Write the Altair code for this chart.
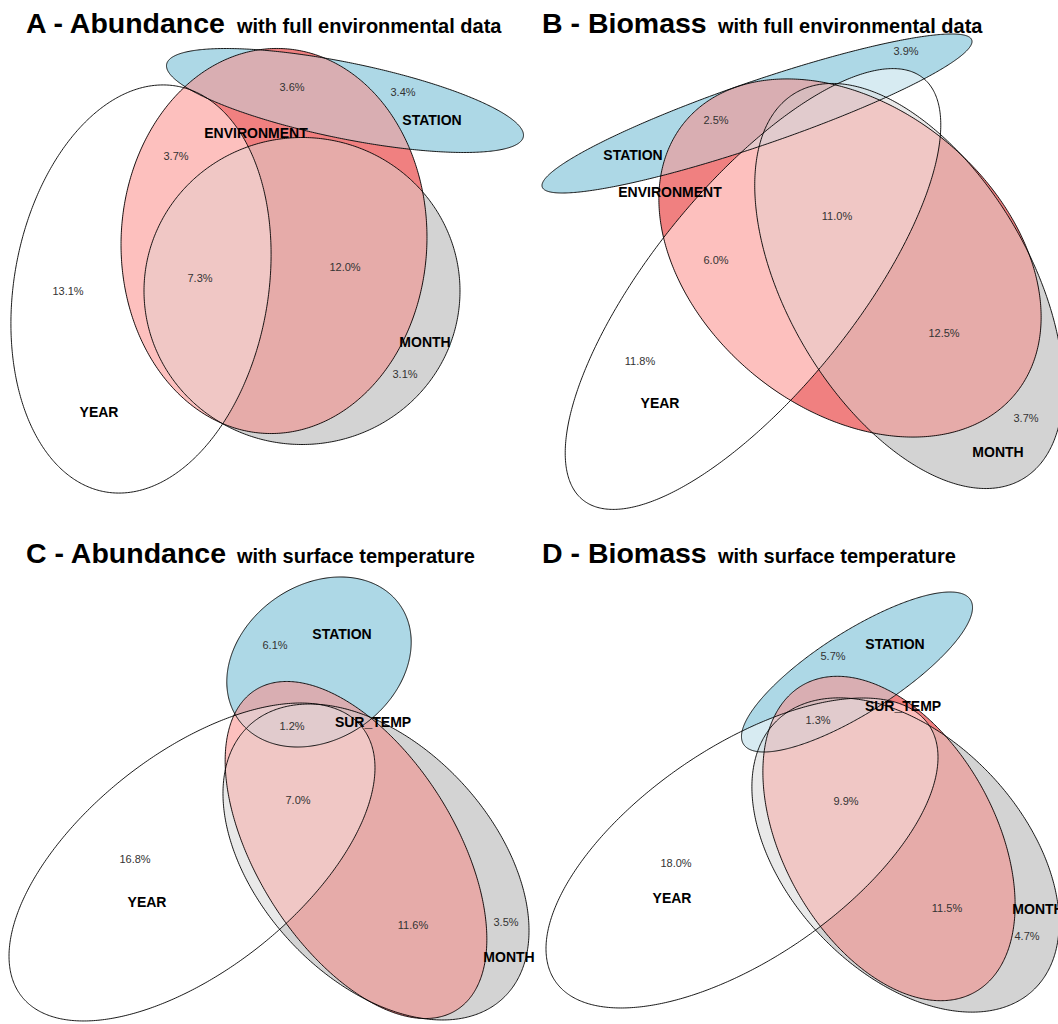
import numpy as np
import pandas as pd
import altair as alt
from itertools import combinations

W, H = 1058, 1024

PANELS = ["A", "B", "C", "D"]
HEADS = ["A - Abundance", "B - Biomass", "C - Abundance", "D - Biomass"]
SUBHEADS = ["with full environmental data", "with full environmental data",
            "with surface temperature", "with surface temperature"]

SETS = ["YEAR", "MONTH", "ENV", "STATION"]
SET_COLOURS = {"YEAR": "#FFFFFF", "MONTH": "#D3D3D3", "ENV": "#F08080", "STATION": "#ADD8E6"}

# fitted ellipses per panel: centre x, centre y, semi-axis a, semi-axis b, rotation (deg, anticlockwise)
YEAR_ELL = [(141, 289, 206, 127, 80.0), (753, 289, 271, 102, 51.1),
            (192, 862, 217, 108, 38.3), (742, 853, 226.5, 105.5, 34.5)]
MONTH_ELL = [(302, 291, 158, 153.5, 0.0), (909, 286, 224, 121, -59.5),
             (376, 862, 186.3, 116.9, -47.1), (905.5, 855, 186, 117, -46.5)]
ENV_ELL = [(274, 241, 192.6, 152.9, 87.6), (850, 258, 214, 151, -39.4),
           (356, 850, 189, 99, -57.9), (889, 838.5, 176, 106, -60.9)]
STATION_ELL = [(345, 100.5, 182, 38, -11.5), (757, 113.5, 227, 32, 18.9),
               (319, 662, 99, 77, 35.4), (857, 672, 134.5, 40.7, 32.5)]

# region percentages: panel, label, anchor x, anchor y
PCT_LABELS = [
    ("A", "3.6%", 292, 88), ("A", "3.4%", 403, 93), ("A", "3.7%", 176, 157),
    ("A", "7.3%", 200, 279), ("A", "12.0%", 345, 268), ("A", "13.1%", 68, 292),
    ("A", "3.1%", 405, 375),
    ("B", "3.9%", 906, 52), ("B", "2.5%", 716, 121), ("B", "11.0%", 837, 217),
    ("B", "6.0%", 716, 261), ("B", "12.5%", 944, 334), ("B", "11.8%", 640, 362),
    ("B", "3.7%", 1026, 419),
    ("C", "6.1%", 275, 646), ("C", "1.2%", 292, 727), ("C", "7.0%", 298, 801),
    ("C", "16.8%", 135, 860), ("C", "11.6%", 413, 926), ("C", "3.5%", 506, 923),
    ("D", "5.7%", 833, 657), ("D", "1.3%", 818, 721), ("D", "9.9%", 846, 802),
    ("D", "18.0%", 676, 864), ("D", "11.5%", 947, 909), ("D", "4.7%", 1027, 937),
]

# set names: panel, label, anchor x, anchor y
SET_LABELS = [
    ("A", "STATION", 432, 121), ("A", "ENVIRONMENT", 256, 134), ("A", "MONTH", 425, 343),
    ("A", "YEAR", 99, 413),
    ("B", "STATION", 633, 156), ("B", "ENVIRONMENT", 670, 193), ("B", "YEAR", 660, 404),
    ("B", "MONTH", 998, 453),
    ("C", "STATION", 342, 635), ("C", "SUR_TEMP", 373, 723), ("C", "YEAR", 147, 903),
    ("C", "MONTH", 509, 958),
    ("D", "STATION", 895, 645), ("D", "SUR_TEMP", 903, 707), ("D", "YEAR", 672, 899),
    ("D", "MONTH", 1038, 910),
]

# panel headings: main x, sub x, baseline y
HEAD_POS = [(26, 237, 33), (542, 718, 33), (26, 237, 563), (542, 718, 563)]


# ---- colour mixing in CIELab ----
M_RGB2XYZ = np.array([[0.4124564, 0.3575761, 0.1804375],
                      [0.2126729, 0.7151522, 0.0721750],
                      [0.0193339, 0.1191920, 0.9503041]])
WHITE = np.array([0.95047, 1.0, 1.08883])


def hex_to_lab(h):
    c = np.array([int(h[i:i + 2], 16) for i in (1, 3, 5)], float) / 255.0
    lin = np.where(c <= 0.04045, c / 12.92, ((c + 0.055) / 1.055) ** 2.4)
    xyz = M_RGB2XYZ @ lin / WHITE
    d = 6 / 29
    f = np.where(xyz > d ** 3, np.cbrt(xyz), xyz / (3 * d * d) + 4 / 29)
    return np.array([116 * f[1] - 16, 500 * (f[0] - f[1]), 200 * (f[1] - f[2])])


def lab_to_hex(lab):
    L, a, b = lab
    fy = (L + 16) / 116
    f = np.array([fy + a / 500, fy, fy - b / 200])
    d = 6 / 29
    xyz = np.where(f > d, f ** 3, 3 * d * d * (f - 4 / 29)) * WHITE
    lin = np.clip(np.linalg.inv(M_RGB2XYZ) @ xyz, 0, 1)
    c = np.where(lin <= 0.0031308, 12.92 * lin, 1.055 * lin ** (1 / 2.4) - 0.055)
    rgb = np.clip(np.round(c * 255), 0, 255).astype(int)
    return "#%02x%02x%02x" % tuple(rgb)


def mix(names):
    return lab_to_hex(np.mean([hex_to_lab(SET_COLOURS[n]) for n in names], axis=0))


# ---- ellipse geometry ----
def axes_dirs(ang):
    t = np.radians(ang)
    return np.array([np.cos(t), -np.sin(t)]), np.array([np.sin(t), np.cos(t)])


def outline(e, n=540):
    cx, cy, a, b, ang = e
    u, v = axes_dirs(ang)
    s = np.linspace(0, 2 * np.pi, n + 1)
    return (cx + a * np.cos(s) * u[0] + b * np.sin(s) * v[0],
            cy + a * np.cos(s) * u[1] + b * np.sin(s) * v[1])


def depth(e, gx, gy):
    cx, cy, a, b, ang = e
    u, v = axes_dirs(ang)
    qu = (gx - cx) * u[0] + (gy - cy) * u[1]
    qv = (gx - cx) * v[0] + (gy - cy) * v[1]
    return (1 - np.sqrt((qu / a) ** 2 + (qv / b) ** 2)) * b


def ray_exit(e, p, dx, dy):
    cx, cy, a, b, ang = e
    u, v = axes_dirs(ang)
    qu = (p[0] - cx) * u[0] + (p[1] - cy) * u[1]
    qv = (p[0] - cx) * v[0] + (p[1] - cy) * v[1]
    eu = dx * u[0] + dy * u[1]
    ev = dx * v[0] + dy * v[1]
    A = eu ** 2 / a ** 2 + ev ** 2 / b ** 2
    B = 2 * (qu * eu / a ** 2 + qv * ev / b ** 2)
    C = qu ** 2 / a ** 2 + qv ** 2 / b ** 2 - 1
    return (-B + np.sqrt(np.maximum(B * B - 4 * A * C, 0))) / (2 * A)


fill_rows = []
line_rows = []
theta = np.linspace(0, 2 * np.pi, 541)
dxs, dys = np.cos(theta), np.sin(theta)

for pi, panel in enumerate(PANELS):
    ells = [YEAR_ELL[pi], MONTH_ELL[pi], ENV_ELL[pi], STATION_ELL[pi]]
    x0 = min(e[0] - e[2] for e in ells); x1 = max(e[0] + e[2] for e in ells)
    y0 = min(e[1] - e[2] for e in ells); y1 = max(e[1] + e[2] for e in ells)
    gx, gy = np.meshgrid(np.arange(x0, x1, 1.0), np.arange(y0, y1, 1.0))
    depths = [depth(e, gx, gy) for e in ells]

    for k in range(1, 5):
        for combo in combinations(range(4), k):
            names = [SETS[i] for i in combo]
            pid = f"{panel}-{'+'.join(names)}"
            colour = mix(names)
            if k == 1:
                px, py = outline(ells[combo[0]])
            else:
                dmin = np.min([depths[i] for i in combo], axis=0)
                j = np.argmax(dmin)
                if dmin.flat[j] <= 0.3:
                    continue
                p = (gx.flat[j], gy.flat[j])
                r = np.min([ray_exit(ells[i], p, dxs, dys) for i in combo], axis=0)
                px, py = p[0] + r * dxs, p[1] + r * dys
            for idx, (xx, yy) in enumerate(zip(px, py)):
                fill_rows.append((pid, k, idx, float(xx), float(yy), colour))

    for i, e in enumerate(ells):
        px, py = outline(e)
        for idx, (xx, yy) in enumerate(zip(px, py)):
            line_rows.append((f"{panel}-{SETS[i]}", idx, float(xx), float(yy)))

fills = pd.DataFrame(fill_rows, columns=["poly", "level", "idx", "x", "y", "fill"])
lines = pd.DataFrame(line_rows, columns=["ell", "idx", "x", "y"])
pct = pd.DataFrame(PCT_LABELS, columns=["panel", "text", "x", "y"])
setlab = pd.DataFrame(SET_LABELS, columns=["panel", "text", "x", "y"])
heads = pd.DataFrame({"text": HEADS, "x": [h[0] for h in HEAD_POS], "y": [h[2] for h in HEAD_POS]})
subs = pd.DataFrame({"text": SUBHEADS, "x": [h[1] for h in HEAD_POS], "y": [h[2] for h in HEAD_POS]})

xs = alt.Scale(domain=[0, W], nice=False, zero=False)
ys = alt.Scale(domain=[0, H], nice=False, zero=False, reverse=True)
X = alt.X("x:Q", scale=xs, axis=None)
Y = alt.Y("y:Q", scale=ys, axis=None)

layers = []
for k in range(1, 5):
    layers.append(
        alt.Chart(fills[fills.level == k]).mark_line(filled=True, strokeWidth=0).encode(
            x=X, y=Y, detail="poly:N", order="idx:Q",
            color=alt.Color("fill:N", scale=None),
        )
    )

layers.append(
    alt.Chart(lines).mark_line(color="black", strokeWidth=0.9).encode(
        x=X, y=Y, detail="ell:N", order="idx:Q"
    )
)

FONT = "Liberation Sans"
layers.append(
    alt.Chart(pct).mark_text(font=FONT, fontSize=11, color="#333333",
                             align="center", baseline="middle").encode(x=X, y=Y, text="text:N")
)
layers.append(
    alt.Chart(setlab).mark_text(font=FONT, fontSize=14, fontWeight="bold", color="black",
                                align="center", baseline="middle").encode(x=X, y=Y, text="text:N")
)
layers.append(
    alt.Chart(heads).mark_text(font=FONT, fontSize=28.5, fontWeight="bold", color="black",
                               align="left", baseline="alphabetic").encode(x=X, y=Y, text="text:N")
)
layers.append(
    alt.Chart(subs).mark_text(font=FONT, fontSize=20, fontWeight="bold", color="black",
                              align="left", baseline="alphabetic").encode(x=X, y=Y, text="text:N")
)

chart = alt.layer(*layers).properties(
    width=W, height=H, padding=0, autosize=alt.AutoSizeParams(type="none"),
    background="white"
).configure_view(stroke=None)

chart.save("out.html", embed_options={"renderer": "svg", "actions": False})
